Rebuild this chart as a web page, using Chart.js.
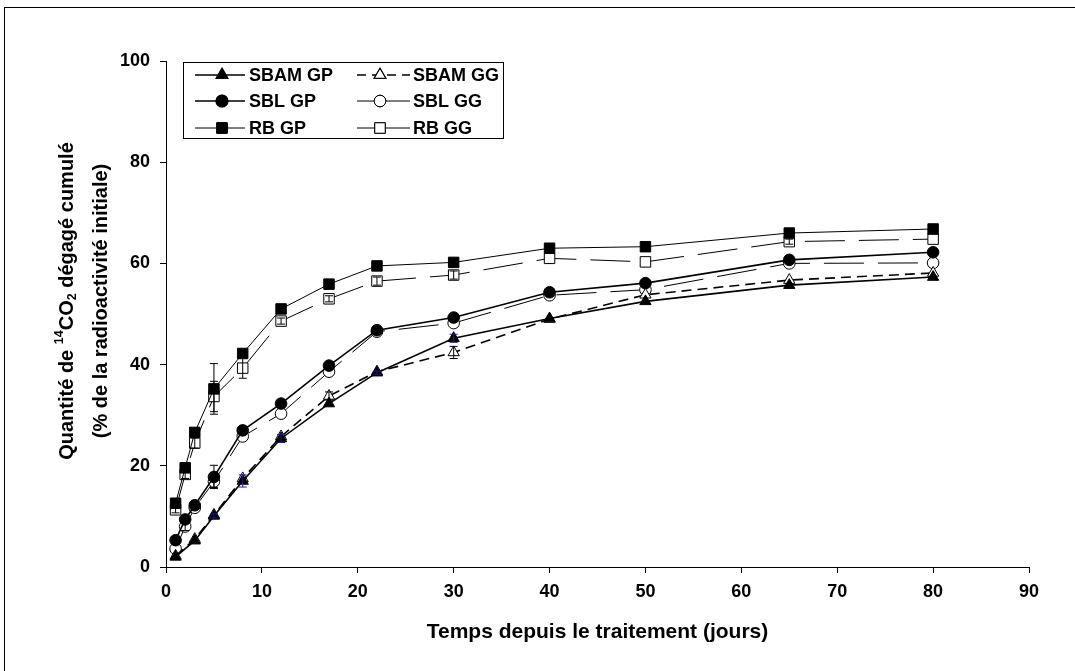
<!DOCTYPE html>
<html><head><meta charset="utf-8">
<script src="https://cdn.jsdelivr.net/npm/chart.js@4.4.1/dist/chart.umd.min.js"></script>
<style>html,body{margin:0;padding:0;background:#fff;overflow:hidden}#wrap{position:relative;width:1075px;height:671px}</style>
</head><body><div id="wrap"><canvas id="c" width="1075" height="671"></canvas></div>
<script>
// ---- data ----
const days = [1, 2, 3, 5, 8, 12, 17, 22, 30, 40, 50, 65, 80];
const xTicks = [0, 10, 20, 30, 40, 50, 60, 70, 80, 90];
const yTicks = [0, 20, 40, 60, 80, 100];

const sbamGP = [2.0, null, 5.2, 10.1, 17.0, 25.4, 32.3, 38.4, 45.2, 49.1, 52.5, 55.7, 57.3];
const sbamGG = [2.2, null, 5.5, 10.3, 17.5, 25.8, 33.8, 38.6, 42.4, 49.0, 53.8, 56.7, 58.1];
const sblGP  = [5.3, 9.4, 12.2, 17.8, 27.0, 32.3, 39.8, 46.8, 49.3, 54.3, 56.1, 60.7, 62.2];
const sblGG  = [3.6, 8.0, 11.7, 16.9, 25.8, 30.3, 38.6, 46.5, 48.2, 53.7, 54.8, 60.0, 60.1];
const rbGP   = [12.6, 19.6, 26.6, 35.2, 42.2, 51.0, 55.9, 59.5, 60.2, 63.0, 63.3, 66.0, 66.8];
const rbGG   = [11.3, 18.3, 24.5, 33.7, 39.3, 48.6, 53.0, 56.5, 57.7, 61.0, 60.3, 64.3, 64.8];

const sbamGPErr = [0, 0, 0, 0.4, 1.2, 0.8, 0, 0.3, 0.8, 0, 0, 0, 0];
const sbamGGErr = [0, 0, 0, 0, 0, 0, 0.8, 0, 1.2, 0, 0, 0, 0];
const sblGPErr  = [0, 0, 0.6, 2.3, 0.8, 0, 0, 0, 0, 0, 0, 0, 0];
const sblGGErr  = [0, 0.8, 0, 1.2, 0, 0, 0, 0, 0, 0, 0, 0, 0];
const rbGPErr   = [0, 0, 0, 5.0, 0, 0, 0, 0, 0, 0, 0, 0, 0];
const rbGGErr   = [0.6, 0.8, 1.0, 3.0, 2.0, 0.6, 0.6, 0.8, 0.8, 0, 0, 0.5, 0];

const FONT = "'Liberation Sans', Arial, Helvetica, sans-serif";

function mk(label, vals, err, style) {
  return Object.assign({
    label,
    data: days.map((d, i) => ({ x: d, y: vals[i] })),
    err,
    spanGaps: true,
    tension: 0,
    fill: false,
    borderColor: '#000',
    pointBorderColor: '#000',
    pointBorderWidth: 1,
    pointHoverRadius: 0
  }, style);
}

const datasets = [
  mk('SBAM GP', sbamGP, sbamGPErr, { borderWidth: 1.6, pointStyle: 'triangle', pointRadius: 6.5, pointBackgroundColor: '#000', errColor: '#1c1c9c' }),
  mk('SBAM GG', sbamGG, sbamGGErr, { borderWidth: 1.6, borderDash: [10, 6], pointStyle: 'triangle', pointRadius: 6.5, pointBackgroundColor: '#fff' }),
  mk('SBL GP', sblGP, sblGPErr, { borderWidth: 1.6, pointStyle: 'circle', pointRadius: 5.8, pointBackgroundColor: '#000' }),
  mk('SBL GG', sblGG, sblGGErr, { borderWidth: 1, borderDash: [40, 14], pointStyle: 'circle', pointRadius: 5.8, pointBackgroundColor: '#fff' }),
  mk('RB GP', rbGP, rbGPErr, { borderWidth: 1, pointStyle: 'rect', pointRadius: 7.4, pointBackgroundColor: '#000' }),
  mk('RB GG', rbGG, rbGGErr, { borderWidth: 1, borderDash: [40, 14], pointStyle: 'rect', pointRadius: 7.4, pointBackgroundColor: '#fff' })
];

const frame = {
  id: 'frame',
  beforeDraw(chart) {
    const ctx = chart.ctx;
    ctx.save();
    ctx.fillStyle = '#fff';
    ctx.fillRect(0, 0, chart.width, chart.height);
    ctx.strokeStyle = '#000';
    ctx.lineWidth = 1;
    ctx.strokeRect(4.5, 7.5, 1200, 800);
    ctx.restore();
  }
};

const errorBars = {
  id: 'errorBars',
  afterDatasetsDraw(chart) {
    const ctx = chart.ctx, ys = chart.scales.y;
    ctx.save();
    chart.data.datasets.forEach((ds, di) => {
      const meta = chart.getDatasetMeta(di);
      ds.err.forEach((e, j) => {
        const v = ds.data[j].y;
        if (!e || v == null) return;
        const x = meta.data[j].x;
        const y1 = ys.getPixelForValue(v + e), y2 = ys.getPixelForValue(v - e);
        ctx.strokeStyle = ds.errColor || '#000';
        ctx.lineWidth = 1;
        ctx.beginPath();
        ctx.moveTo(x, y1); ctx.lineTo(x, y2);
        ctx.moveTo(x - 4, y1); ctx.lineTo(x + 4, y1);
        ctx.moveTo(x - 4, y2); ctx.lineTo(x + 4, y2);
        ctx.stroke();
      });
    });
    ctx.restore();
  }
};

const legendBox = {
  id: 'legendBox',
  afterDraw(chart) {
    const ctx = chart.ctx;
    const left = 183, top = 62, w = 320, h = 76;
    ctx.save();
    ctx.fillStyle = '#fff';
    ctx.fillRect(left, top, w, h);
    ctx.strokeStyle = '#000';
    ctx.lineWidth = 1;
    ctx.strokeRect(left + 0.5, top + 0.5, w, h);
    const rows = [75, 101, 128];
    const cols = [{ l0: 195, l1: 245, m: 222, t: 249 }, { l0: 357, l1: 410, m: 380, t: 413 }];
    chart.data.datasets.forEach((ds, i) => {
      const c = cols[i % 2], y = rows[Math.floor(i / 2)];
      ctx.strokeStyle = '#000';
      ctx.lineWidth = ds.borderWidth;
      if (ds.borderDash && ds.borderDash[0] < 20) ctx.setLineDash([9, 6]);
      else ctx.setLineDash([]);
      ctx.beginPath(); ctx.moveTo(c.l0, y); ctx.lineTo(c.l1, y); ctx.stroke();
      ctx.setLineDash([]);
      Chart.helpers.drawPoint(ctx, {
        pointStyle: ds.pointStyle, radius: ds.pointRadius, borderWidth: 1, rotation: 0
      }, c.m, y);
      ctx.fillStyle = ds.pointBackgroundColor;
      ctx.fill();
      ctx.strokeStyle = '#000';
      ctx.lineWidth = 1;
      ctx.stroke();
      ctx.fillStyle = '#000';
      ctx.font = `bold 18px ${FONT}`;
      ctx.textBaseline = 'middle';
      ctx.textAlign = 'left';
      ctx.fillText(ds.label, c.t, y + 1);
    });
    ctx.restore();
  }
};

const yTitle = {
  id: 'yTitle',
  afterDraw(chart) {
    const ctx = chart.ctx;
    ctx.save();
    ctx.translate(67, 301);
    ctx.rotate(-Math.PI / 2);
    ctx.fillStyle = '#000';
    ctx.textBaseline = 'middle';
    ctx.textAlign = 'left';
    const big = `bold 20px ${FONT}`, small = `bold 12.5px ${FONT}`;
    const parts = [['Quantité de ', big, 0], ['14', small, -7], ['CO', big, 0], ['2', small, 6], [' dégagé cumulé', big, 0]];
    let total = 0;
    parts.forEach(p => { ctx.font = p[1]; total += ctx.measureText(p[0]).width; });
    let x = -total / 2;
    parts.forEach(p => { ctx.font = p[1]; ctx.fillText(p[0], x, p[2]); x += ctx.measureText(p[0]).width; });
    ctx.font = big;
    ctx.textAlign = 'center';
    ctx.fillText('(% de la radioactivité initiale)', 0, 34);
    ctx.restore();
  }
};

new Chart(document.getElementById('c'), {
  type: 'line',
  data: { datasets },
  plugins: [frame, errorBars, legendBox, yTitle],
  options: {
    responsive: false,
    animation: false,
    events: [],
    layout: { padding: { left: 0, top: 61, right: 46, bottom: 0 } },
    plugins: { legend: { display: false }, tooltip: { enabled: false } },
    scales: {
      x: {
        type: 'linear', min: 0, max: 90,
        afterBuildTicks: s => { s.ticks = xTicks.map(v => ({ value: v })); },
        ticks: { color: '#000', font: { family: FONT, size: 18, weight: 'bold' }, padding: 8, maxRotation: 0, autoSkip: false },
        grid: { display: true, drawOnChartArea: false, drawTicks: true, tickLength: 6, color: '#000' },
        border: { display: true, color: '#000', width: 1 },
        title: { display: true, text: 'Temps depuis le traitement (jours)', color: '#000', font: { family: FONT, size: 21, weight: 'bold' }, padding: { top: 0, bottom: 26 } },
        afterFit: s => { s.height = 104; }
      },
      y: {
        type: 'linear', min: 0, max: 100,
        afterBuildTicks: s => { s.ticks = yTicks.map(v => ({ value: v })); },
        ticks: { color: '#000', font: { family: FONT, size: 18, weight: 'bold' }, padding: 10, autoSkip: false },
        grid: { display: true, drawOnChartArea: false, drawTicks: true, tickLength: 6, color: '#000' },
        border: { display: true, color: '#000', width: 1 },
        afterFit: s => { s.width = 166; }
      }
    }
  }
});
</script>
</body></html>
